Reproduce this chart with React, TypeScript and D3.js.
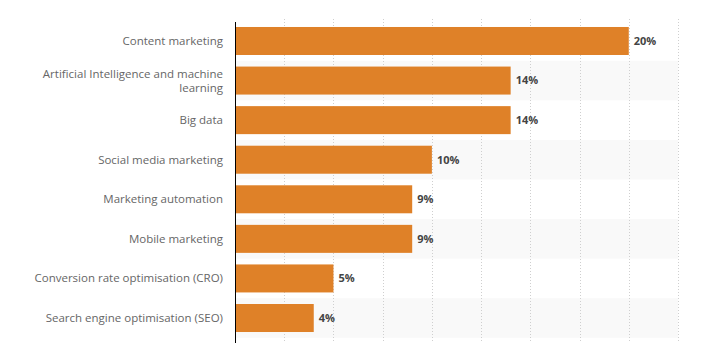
import React from "react";
import * as d3 from "d3";

const categories: string[][] = [
  ["Content marketing"],
  ["Artificial Intelligence and machine", "learning"],
  ["Big data"],
  ["Social media marketing"],
  ["Marketing automation"],
  ["Mobile marketing"],
  ["Conversion rate optimisation (CRO)"],
  ["Search engine optimisation (SEO)"],
];
const values: number[] = [20, 14, 14, 10, 9, 9, 5, 4];
const valueLabels: string[] = ["20%", "14%", "14%", "10%", "9%", "9%", "5%", "4%"];
const gridTicks: number[] = [2.5, 5, 7.5, 10, 12.5, 15, 17.5, 20, 22.5];

const W = 710;
const H = 343;
const left = 235;
const right = 678;
const top = 21.2;
const bottom = 337.8;

export default function App() {
  const x = d3.scaleLinear().domain([0, 22.5]).range([left, right]);
  const y = d3
    .scaleBand<number>()
    .domain(d3.range(categories.length))
    .range([top, bottom])
    .paddingInner(0)
    .paddingOuter(0);
  const band = y.bandwidth();
  const barH = 28;
  const font = "'Open Sans', 'DejaVu Sans', sans-serif";

  return (
    <svg
      width={W}
      height={H}
      style={{ position: "absolute", left: 0, top: 0, background: "#fff" }}
    >
      {categories.map((_, i) =>
        i % 2 === 1 ? (
          <rect
            key={"s" + i}
            x={left}
            y={y(i)!}
            width={right - left}
            height={band}
            fill="#f9f9f9"
          />
        ) : null
      )}
      {gridTicks.map((t) => (
        <line
          key={"g" + t}
          x1={Math.round(x(t)) + 0.5}
          x2={Math.round(x(t)) + 0.5}
          y1={19}
          y2={H}
          stroke="#cfcfcf"
          strokeWidth={1}
          strokeDasharray="1,2"
        />
      ))}
      {values.map((v, i) => {
        const cy = y(i)! + band / 2;
        return (
          <g key={"b" + i}>
            <rect
              x={x(0)}
              y={cy - barH / 2}
              width={x(v) - x(0)}
              height={barH}
              fill="#df8128"
            />
            <text
              x={x(v) + 5}
              y={cy}
              dy="0.35em"
              fontFamily={font}
              fontSize={11}
              fontWeight="bold"
              fill="#444"
            >
              {valueLabels[i]}
            </text>
          </g>
        );
      })}
      {categories.map((lines, i) => {
        const cy = y(i)! + band / 2;
        const lh = 14;
        const start = cy - ((lines.length - 1) * lh) / 2;
        return (
          <text
            key={"c" + i}
            textAnchor="end"
            fontFamily={font}
            fontSize={11.5}
            fill="#666"
          >
            {lines.map((l, j) => (
              <tspan key={j} x={223} y={start + j * lh} dy="0.35em">
                {l}
              </tspan>
            ))}
          </text>
        );
      })}
      <line x1={left + 0.5} x2={left + 0.5} y1={22} y2={H} stroke="#000" strokeWidth={1} />
    </svg>
  );
}
